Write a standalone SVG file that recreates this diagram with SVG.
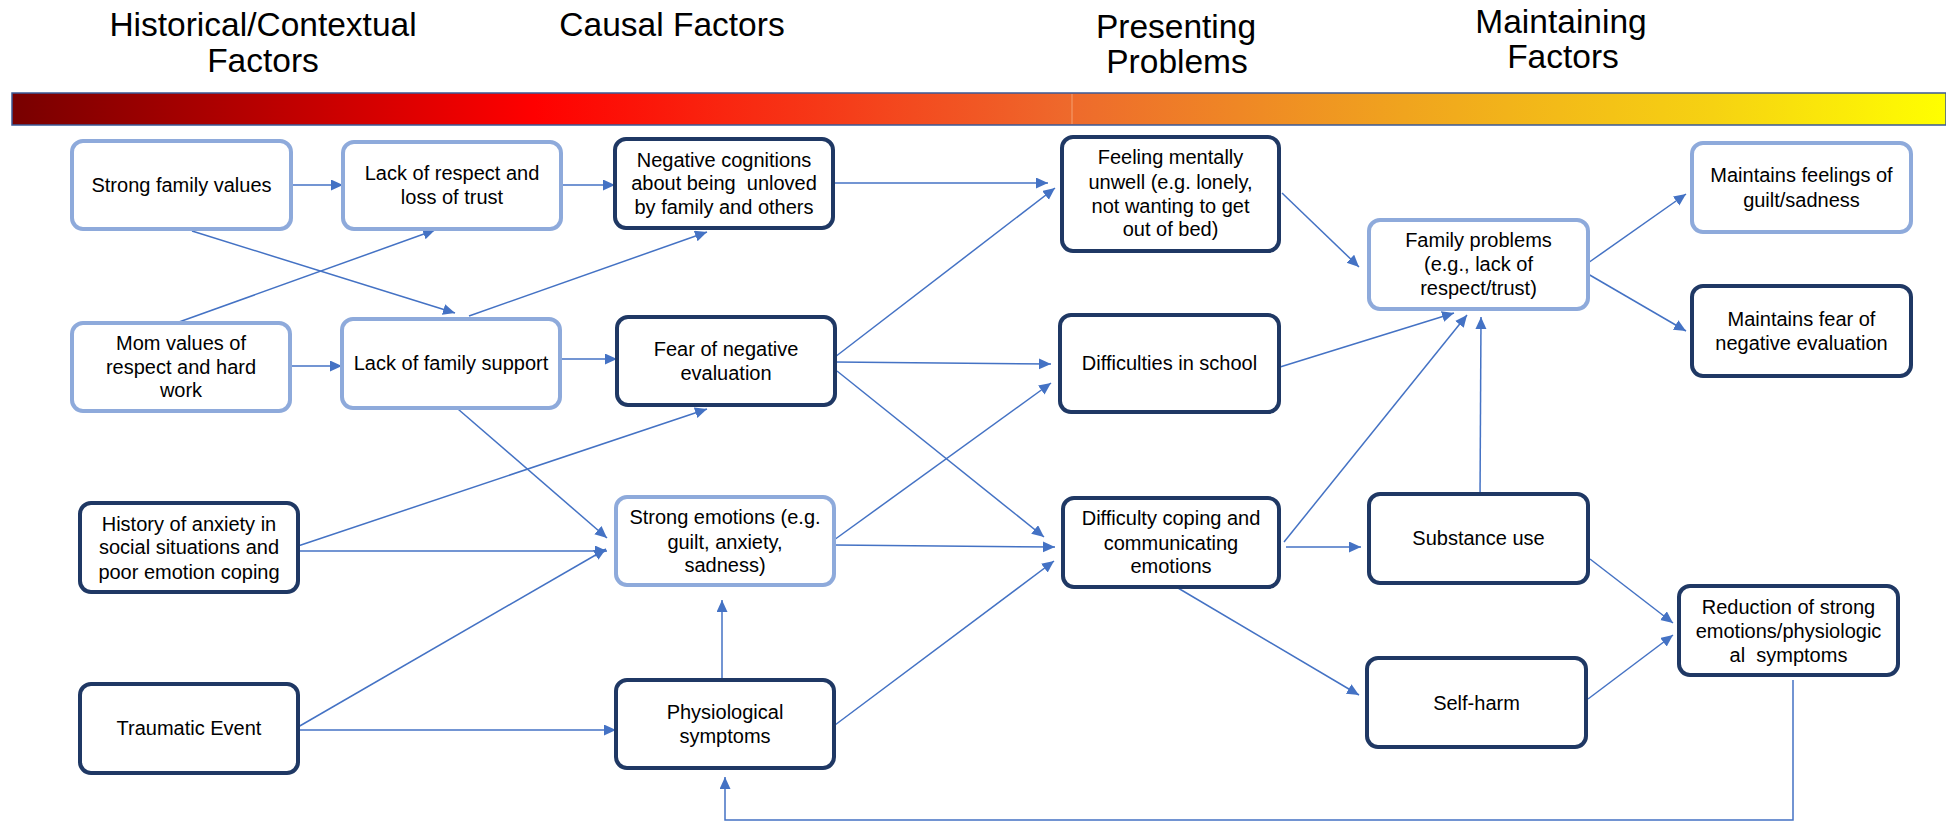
<svg xmlns="http://www.w3.org/2000/svg" width="1946" height="823" viewBox="0 0 1946 823">
<defs>
<linearGradient id="bar" x1="0" y1="0" x2="1" y2="0">
<stop offset="0" stop-color="#780000"/>
<stop offset="0.27" stop-color="#ff0000"/>
<stop offset="0.548" stop-color="#ee6a2c"/>
<stop offset="0.72" stop-color="#f0a41e"/>
<stop offset="0.88" stop-color="#f6d212"/>
<stop offset="1" stop-color="#ffff00"/>
</linearGradient>
<marker id="ah" markerUnits="userSpaceOnUse" markerWidth="13" markerHeight="12" refX="12" refY="5.5" orient="auto">
<path d="M0,0 L12,5.5 L0,11 z" fill="#4472c4"/>
</marker>
<style>
.hdr{font-family:"Liberation Sans",Arial,sans-serif;font-size:33.5px;fill:#000;text-anchor:middle}
.t{font-family:"Liberation Sans",Arial,sans-serif;font-size:20px;fill:#000;text-anchor:middle}
.lt{fill:#fff;stroke:#8eaadb;stroke-width:4}
.dk{fill:#fff;stroke:#1f3864;stroke-width:4}
.c{fill:none;stroke:#4472c4;stroke-width:1.5;marker-end:url(#ah)}
</style>
</defs>
<rect width="1946" height="823" fill="#fff"/>
<g id="headers">
<text class="hdr" x="263" y="36">Historical/Contextual</text>
<text class="hdr" x="263" y="72">Factors</text>
<text class="hdr" x="672" y="36">Causal Factors</text>
<text class="hdr" x="1176" y="38">Presenting</text>
<text class="hdr" x="1177" y="73">Problems</text>
<text class="hdr" x="1561" y="33">Maintaining</text>
<text class="hdr" x="1563" y="68">Factors</text>
</g>
<g id="gradient-bar">
<rect x="12" y="93" width="1934" height="32" fill="url(#bar)" stroke="#3b5a96" stroke-width="1.5"/>
<line x1="1072" y1="94" x2="1072" y2="124" stroke="#f4a070" stroke-width="1"/>
</g>
<g id="connectors">
<line class="c" x1="291" y1="185" x2="343" y2="185"/>
<line class="c" x1="561" y1="185" x2="615" y2="185"/>
<line class="c" x1="833" y1="183" x2="1048" y2="183"/>
<line class="c" x1="192" y1="231" x2="455" y2="313"/>
<line class="c" x1="179" y1="322" x2="435" y2="230"/>
<line class="c" x1="469" y1="316" x2="707" y2="232"/>
<line class="c" x1="290" y1="366" x2="342" y2="366"/>
<line class="c" x1="560" y1="359" x2="617" y2="359"/>
<line class="c" x1="835" y1="357" x2="1055" y2="188"/>
<line class="c" x1="835" y1="362" x2="1051" y2="364"/>
<line class="c" x1="837" y1="371" x2="1044" y2="537"/>
<line class="c" x1="451" y1="403" x2="607" y2="538"/>
<line class="c" x1="298" y1="546" x2="707" y2="409"/>
<line class="c" x1="298" y1="551" x2="607" y2="551"/>
<line class="c" x1="298" y1="727" x2="606" y2="549"/>
<line class="c" x1="298" y1="730" x2="616" y2="730"/>
<line class="c" x1="834" y1="540" x2="1051" y2="383"/>
<line class="c" x1="834" y1="545" x2="1055" y2="547"/>
<line class="c" x1="722" y1="678" x2="722" y2="600"/>
<line class="c" x1="835" y1="725" x2="1054" y2="561"/>
<line class="c" x1="1282" y1="193" x2="1359" y2="267"/>
<line class="c" x1="1280" y1="367" x2="1454" y2="313"/>
<line class="c" x1="1284" y1="542" x2="1467" y2="315"/>
<line class="c" x1="1480" y1="500" x2="1481" y2="317"/>
<line class="c" x1="1286" y1="547" x2="1361" y2="547"/>
<line class="c" x1="1178" y1="588" x2="1359" y2="695"/>
<line class="c" x1="1588" y1="263" x2="1686" y2="194"/>
<line class="c" x1="1588" y1="274" x2="1686" y2="331"/>
<line class="c" x1="1590" y1="559" x2="1673" y2="623"/>
<line class="c" x1="1588" y1="699" x2="1673" y2="635"/>
<polyline class="c" points="1793,680 1793,820 725,820 725,777"/>
</g>
<g id="n-sfv"><rect class="lt" x="72" y="141" width="219" height="88" rx="11"/><text class="t" x="181.5" y="192">Strong family values</text></g>
<g id="n-lrt"><rect class="lt" x="343" y="142" width="218" height="87" rx="11"/><text class="t" x="452" y="180">Lack of respect and</text><text class="t" x="452" y="204">loss of trust</text></g>
<g id="n-nc"><rect class="dk" x="615" y="139" width="218" height="89" rx="11"/><text class="t" x="724" y="167">Negative cognitions</text><text class="t" x="724" y="190" xml:space="preserve">about being  unloved</text><text class="t" x="724" y="214">by family and others</text></g>
<g id="n-fmu"><rect class="dk" x="1062" y="137" width="217" height="114" rx="11"/><text class="t" x="1170.5" y="164">Feeling mentally</text><text class="t" x="1170.5" y="189">unwell (e.g. lonely,</text><text class="t" x="1170.5" y="213">not wanting to get</text><text class="t" x="1170.5" y="236">out of bed)</text></g>
<g id="n-fp"><rect class="lt" x="1369" y="220" width="219" height="89" rx="11"/><text class="t" x="1478.5" y="247">Family problems</text><text class="t" x="1478.5" y="271">(e.g., lack of</text><text class="t" x="1478.5" y="295">respect/trust)</text></g>
<g id="n-mfg"><rect class="lt" x="1692" y="143" width="219" height="89" rx="11"/><text class="t" x="1801.5" y="182">Maintains feelings of</text><text class="t" x="1801.5" y="207">guilt/sadness</text></g>
<g id="n-mfn"><rect class="dk" x="1692" y="286" width="219" height="90" rx="11"/><text class="t" x="1801.5" y="326">Maintains fear of</text><text class="t" x="1801.5" y="350">negative evaluation</text></g>
<g id="n-mv"><rect class="lt" x="72" y="323" width="218" height="88" rx="11"/><text class="t" x="181" y="350">Mom values of</text><text class="t" x="181" y="374">respect and hard</text><text class="t" x="181" y="397">work</text></g>
<g id="n-lfs"><rect class="lt" x="342" y="319" width="218" height="89" rx="11"/><text class="t" x="451" y="370">Lack of family support</text></g>
<g id="n-fne"><rect class="dk" x="617" y="317" width="218" height="88" rx="11"/><text class="t" x="726" y="356">Fear of negative</text><text class="t" x="726" y="380">evaluation</text></g>
<g id="n-ds"><rect class="dk" x="1060" y="315" width="219" height="97" rx="11"/><text class="t" x="1169.5" y="370">Difficulties in school</text></g>
<g id="n-ha"><rect class="dk" x="80" y="503" width="218" height="89" rx="11"/><text class="t" x="189" y="531">History of anxiety in</text><text class="t" x="189" y="554">social situations and</text><text class="t" x="189" y="579">poor emotion coping</text></g>
<g id="n-se"><rect class="lt" x="616" y="497" width="218" height="88" rx="11"/><text class="t" x="725" y="524">Strong emotions (e.g.</text><text class="t" x="725" y="549">guilt, anxiety,</text><text class="t" x="725" y="572">sadness)</text></g>
<g id="n-dc"><rect class="dk" x="1063" y="498" width="216" height="89" rx="11"/><text class="t" x="1171" y="525">Difficulty coping and</text><text class="t" x="1171" y="550">communicating</text><text class="t" x="1171" y="573">emotions</text></g>
<g id="n-su"><rect class="dk" x="1369" y="494" width="219" height="89" rx="11"/><text class="t" x="1478.5" y="545">Substance use</text></g>
<g id="n-te"><rect class="dk" x="80" y="684" width="218" height="89" rx="11"/><text class="t" x="189" y="735">Traumatic Event</text></g>
<g id="n-ps"><rect class="dk" x="616" y="680" width="218" height="88" rx="11"/><text class="t" x="725" y="719">Physiological</text><text class="t" x="725" y="743">symptoms</text></g>
<g id="n-sh"><rect class="dk" x="1367" y="658" width="219" height="89" rx="11"/><text class="t" x="1476.5" y="710">Self-harm</text></g>
<g id="n-rs"><rect class="dk" x="1679" y="586" width="219" height="89" rx="11"/><text class="t" x="1788.5" y="614">Reduction of strong</text><text class="t" x="1788.5" y="638">emotions/physiologic</text><text class="t" x="1788.5" y="662" xml:space="preserve">al  symptoms</text></g>
</svg>
